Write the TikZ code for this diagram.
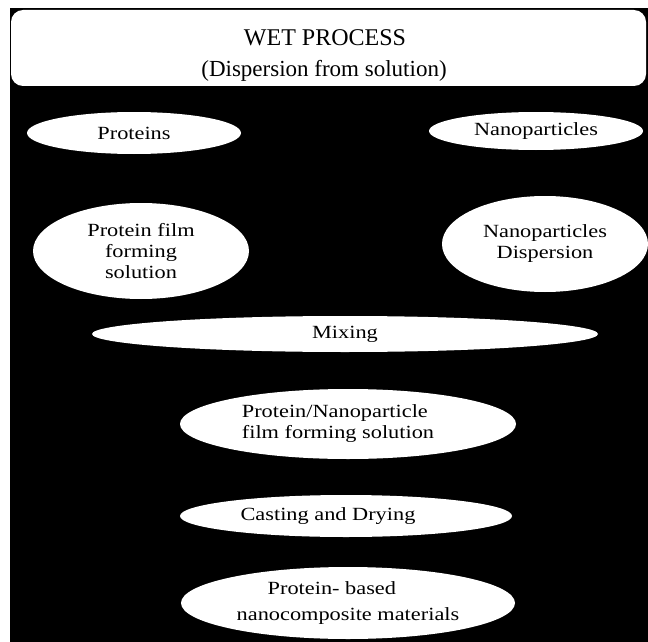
\documentclass[tikz,border=0pt]{standalone}
\usepackage{fontspec}
\setmainfont{Liberation Serif}[FakeStretch=1.2]
\newfontfamily\headfont{Liberation Serif}
\usetikzlibrary{shapes.geometric}
\begin{document}
\begin{tikzpicture}[x=1pt,y=-1pt,
  bubble/.style={ellipse, fill=white, draw=none, inner sep=0pt, align=center,
    text=black, font=\fontsize{18.6}{21}\selectfont},
  headbox/.style={fill=white, rounded corners=12pt, inner sep=0pt},
  titletext/.style={text=black, inner sep=0pt, font=\headfont\fontsize{24}{28}\selectfont},
  subtext/.style={text=black, inner sep=0pt, font=\headfont\fontsize{23}{27}\selectfont}
]
\useasboundingbox (0,0) rectangle (648,642);
\fill[white] (0,0) rectangle (648,642);
% dark panel behind the flow
\fill[black] (10,8) rectangle (648,642);

% header
\node[headbox, minimum width=635pt, minimum height=76pt] (hdr) at (328.5,48) {};
\node[titletext] (title) at (325,38) {WET PROCESS};
\node[subtext] (sub) at (324,71) {(Dispersion from solution)};

% inputs
\node[bubble, minimum width=214pt, minimum height=42pt] (prot) at (134,133) {Proteins};
\node[bubble, minimum width=214pt, minimum height=38pt] (nano) at (536,131) {Nanoparticles};
\node[bubble, minimum width=216pt, minimum height=96pt] (pfs) at (141,251) {Protein film\\forming\\solution};
\node[bubble, minimum width=206pt, minimum height=96pt] (nd) at (545,244) {Nanoparticles\\Dispersion};

% processing chain
\node[bubble, minimum width=506pt, minimum height=36pt] (mix) at (345,334) {Mixing};
\node[bubble, minimum width=336pt, minimum height=70pt, align=left] (pnf) at (348,424)
  {\hspace*{-20pt}Protein/Nanoparticle\\\hspace*{-20pt}film forming solution};
\node[bubble, minimum width=332pt, minimum height=42pt] (cast) at (346,516)
  {\hspace*{-36pt}Casting and Drying};
\node[bubble, minimum width=334pt, minimum height=72pt, align=left,
  font=\fontsize{18.6}{26}\selectfont] (pb) at (348,603)
  {\hspace*{31pt}Protein- based\\nanocomposite materials};
\end{tikzpicture}
\end{document}
